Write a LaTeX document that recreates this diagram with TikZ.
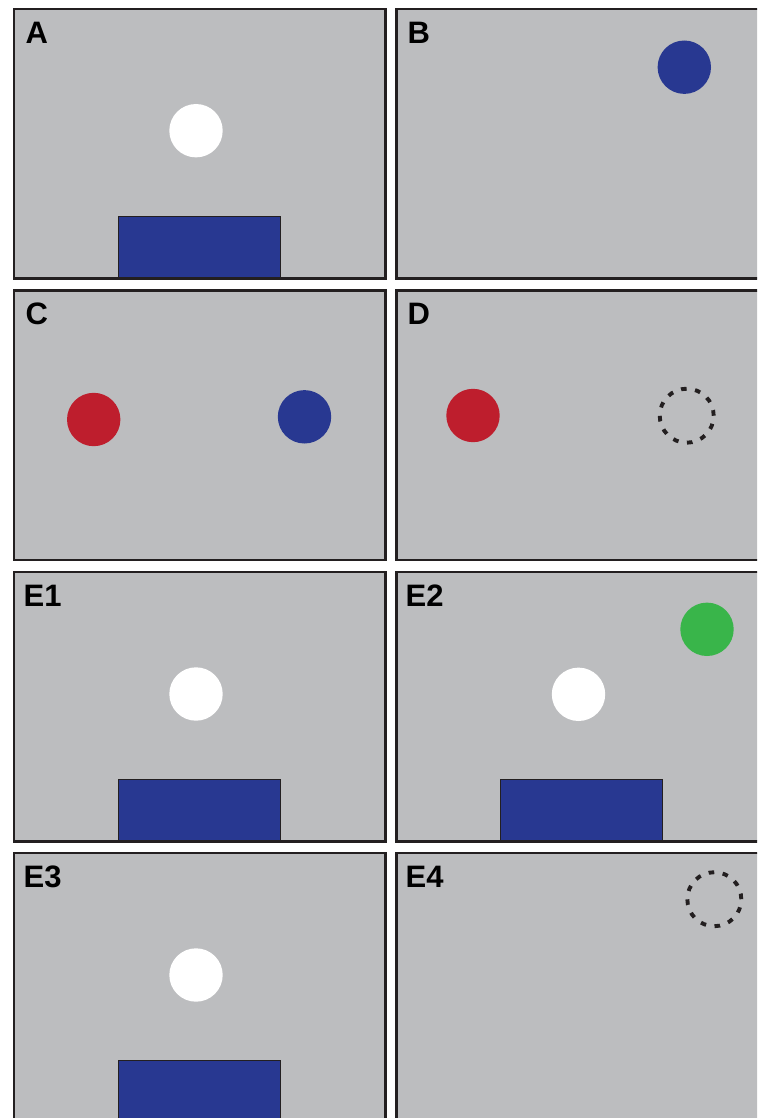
\documentclass[tikz,border=0pt]{standalone}
\usepackage{fontspec}
\setmainfont{Liberation Sans}
\definecolor{panelgray}{HTML}{BCBDBF}
\definecolor{edge}{HTML}{231F20}
\definecolor{navy}{HTML}{283891}
\definecolor{crimson}{HTML}{BE1E2D}
\definecolor{leaf}{HTML}{39B54A}
\begin{document}
\begin{tikzpicture}[x=1pt,y=-1pt,
  panel/.style={fill=panelgray,draw=edge,line width=2.4pt},
  disc/.style={circle,minimum size=53.4pt,inner sep=0pt,draw=none},
  ghost/.style={circle,minimum size=54pt,inner sep=0pt,draw=edge,line width=3.9pt,dash pattern=on 5.6pt off 8.54pt},
  block/.style={fill=navy,draw=edge,line width=1pt},
  tag/.style={anchor=base west,inner sep=0pt,font=\fontsize{31}{31}\selectfont\bfseries}]
\clip (0,0) rectangle (757,1118);
\fill[white] (0,0) rectangle (757,1118);

% panel grid: columns at x = 14 and 396.3, rows at y = 9.3, 290.6, 572, 853.2
\foreach \px in {14,396.3}{
  \foreach \py in {9.3,290.6,572,853.2}{
    \fill[panelgray] (\px,\py) rectangle ++(371.3,269.3);
  }
}

% bars along the bottom edge
\draw[block] (118,216.7) rectangle (280,278.6);
\draw[block] (118,779.7) rectangle (280,841.3);
\draw[block] (500,779.7) rectangle (662,841.3);
\draw[block] (118,1060.9) rectangle (280,1125);

% panel outlines
\foreach \px in {14,396.3}{
  \foreach \py in {9.3,290.6,572,853.2}{
    \draw[panel,fill=none] (\px,\py) rectangle ++(371.3,269.3);
  }
}

% discs
\node[disc,fill=white]    (aw)  at (196,130.7) {};
\node[disc,fill=navy]     (bb)  at (684.3,67.2) {};
\node[disc,fill=crimson]  (cr)  at (93.7,419.5) {};
\node[disc,fill=navy]     (cb)  at (304.5,416.8) {};
\node[disc,fill=crimson]  (dr)  at (473,415.5) {};
\node[ghost]              (dg)  at (686.7,415.7) {};
\node[disc,fill=white]    (e1w) at (196,694) {};
\node[disc,fill=leaf]     (e2g) at (707,629.3) {};
\node[disc,fill=white]    (e2w) at (578.5,694.3) {};
\node[disc,fill=white]    (e3w) at (196,975) {};
\node[ghost]              (e4g) at (714.3,899.2) {};

% panel letters
\node[tag] (la)  at (25.5,43.3)   {A};
\node[tag] (lb)  at (407.5,43.3)  {B};
\node[tag] (lc)  at (25.5,324.6)  {C};
\node[tag] (ld)  at (407.5,324.6) {D};
\node[tag] (le1) at (23.5,606)    {E1};
\node[tag] (le2) at (405.5,606)   {E2};
\node[tag] (le3) at (23.5,887.2)  {E3};
\node[tag] (le4) at (405.5,887.2) {E4};
\end{tikzpicture}
\end{document}
